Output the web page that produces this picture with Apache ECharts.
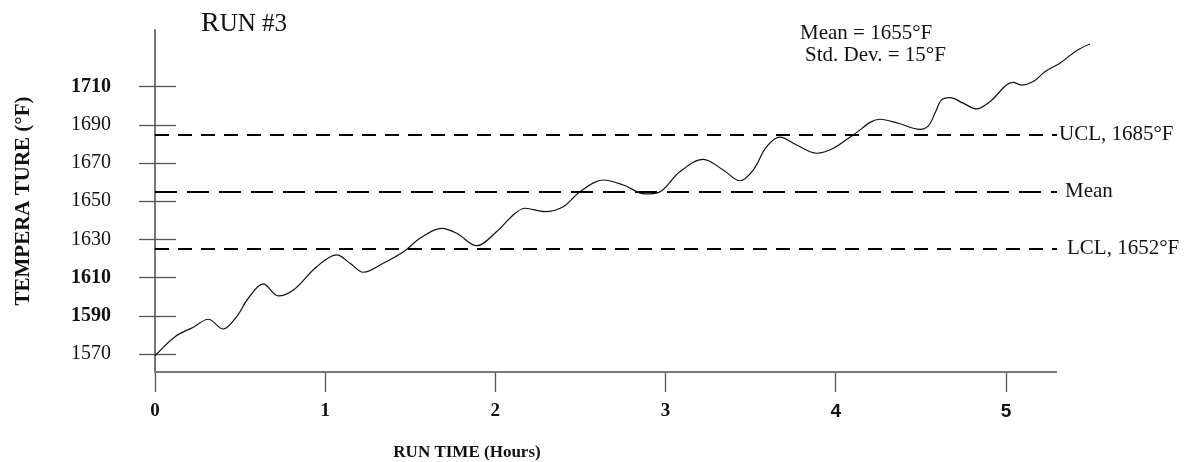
<!DOCTYPE html>
<html>
<head>
<meta charset="utf-8">
<script src="https://cdn.jsdelivr.net/npm/echarts@6/dist/echarts.min.js"></script>
<style>
html,body{margin:0;padding:0;background:#fff;}
#c{width:1191px;height:462px;}
</style>
</head>
<body>
<div id="c"></div>
<script>
// Run time (hours) and temperature (°F)
const hours = [0, 0.118, 0.225, 0.313, 0.401, 0.480, 0.548, 0.636, 0.724, 0.813,
  0.950, 1.068, 1.146, 1.224, 1.341, 1.469, 1.557, 1.684, 1.773, 1.890,
  2.008, 2.105, 2.174, 2.291, 2.399, 2.497, 2.634, 2.752, 2.879, 2.957,
  3.085, 3.222, 3.339, 3.437, 3.515, 3.594, 3.672, 3.770, 3.888, 3.986,
  4.103, 4.260, 4.368, 4.495, 4.544, 4.583, 4.622, 4.671, 4.749, 4.828,
  4.906, 5.043, 5.092, 5.161, 5.229, 5.317, 5.415, 5.494];
const temps = [1569, 1579.1, 1584.0, 1588.2, 1583.1, 1589.6, 1599.2, 1606.7, 1600.4, 1603.5,
  1615.7, 1621.9, 1617.5, 1612.8, 1617.5, 1624.1, 1630.6, 1635.8, 1633.2, 1626.7,
  1634.1, 1642.8, 1646.3, 1644.5, 1647.1, 1655.0, 1661.1, 1658.5, 1653.8, 1654.5,
  1665.5, 1671.9, 1666.3, 1660.7, 1666.3, 1678.5, 1683.5, 1679.4, 1675.1, 1677.7,
  1684.7, 1692.9, 1690.8, 1687.6, 1689.4, 1696.0, 1703.0, 1704.2, 1701.3, 1698.3,
  1702.1, 1712.2, 1710.8, 1712.6, 1717.8, 1722.2, 1728.8, 1732.3];

const xTicks = [0, 1, 2, 3, 4, 5];
const xSansTicks = [4, 5];
const yTicks = [1570, 1590, 1610, 1630, 1650, 1670, 1690, 1710];
const yBoldTicks = [1590, 1610, 1710];

const uclValue = 1685;
const meanValue = 1655;
const lclValue = 1625;
const uclLabel = 'UCL, 1685°F';
const meanLabel = 'Mean';
const lclLabel = 'LCL, 1652°F';

const titleText = 'RUN #3';
const statLine1 = 'Mean = 1655°F';
const statLine2 = 'Std. Dev. = 15°F';
const xName = 'RUN TIME (Hours)';
const yName = 'TEMPERA TURE (°F)';

const serif = '"Liberation Serif", "DejaVu Serif", serif';
const sans = '"Liberation Sans", "DejaVu Sans", sans-serif';

const chart = echarts.init(document.getElementById('c'), null, {renderer: 'canvas'});

const yMin = 1560.6, yMax = 1739.6;
const xMin = 0, xAxisEnd = 5.3, xMax = 5.5;

function hLine(value, dash, label, dist) {
  return [
    {coord: [xMin, value], lineStyle: {type: dash, color: '#000', width: 2},
      label: label ? {show: true, formatter: label, distance: dist} : {show: false}},
    {coord: [xAxisEnd, value]}
  ];
}

const option = {
  animation: false,
  backgroundColor: '#fff',
  title: [
    {
      text: '{r|' + titleText.charAt(0) + '}{u|' + titleText.slice(1) + '}',
      left: 196, top: 5,
      textStyle: {
        fontWeight: 'normal',
        rich: {
          r: {fontFamily: serif, fontSize: 28, fontWeight: 'normal', color: '#111'},
          u: {fontFamily: serif, fontSize: 25, fontWeight: 'normal', color: '#111'}
        }
      }
    },
    {
      text: statLine1,
      left: 795, top: 18,
      textStyle: {fontFamily: serif, fontSize: 21, fontWeight: 'normal', color: '#111'}
    },
    {
      text: statLine2,
      left: 800, top: 40,
      textStyle: {fontFamily: serif, fontSize: 21, fontWeight: 'normal', color: '#111'}
    }
  ],
  grid: {left: 155, right: 100, top: 30, bottom: 90, containLabel: false, outerBoundsMode: 'none'},
  xAxis: {
    type: 'value',
    min: xMin, max: xMax,
    name: xName,
    nameLocation: 'middle',
    nameGap: 72,
    nameTextStyle: {fontFamily: serif, fontSize: 17, fontWeight: 'bold', color: '#111', padding: [0, 312, 0, 0]},
    axisLine: {show: false},
    axisTick: {show: true, length: 20, inside: false, customValues: xTicks, lineStyle: {color: '#555', width: 1.3}},
    axisLabel: {
      customValues: xTicks,
      margin: 30,
      formatter: v => (xSansTicks.indexOf(v) >= 0 ? '{s|' + v + '}' : '{n|' + v + '}'),
      rich: {
        n: {fontFamily: serif, fontSize: 19, fontWeight: 'bold', color: '#111'},
        s: {fontFamily: sans, fontSize: 19, fontWeight: 'bold', color: '#111'}
      }
    },
    splitLine: {show: false}
  },
  yAxis: [
    {
      type: 'value',
      min: yMin, max: yMax,
      position: 'left',
      name: yName,
      nameLocation: 'middle',
      nameGap: 121,
      nameRotate: 90,
      nameTextStyle: {fontFamily: serif, fontSize: 21, fontWeight: 'bold', color: '#111'},
      axisLine: {show: true, lineStyle: {color: '#777', width: 2}},
      axisTick: {show: true, length: 16, inside: false, customValues: yTicks, lineStyle: {color: '#555', width: 1.3}},
      axisLabel: {
        customValues: yTicks,
        margin: 44,
        formatter: v => (yBoldTicks.indexOf(v) >= 0 ? '{b|' + v + '}' : '{n|' + v + '}'),
        rich: {
          b: {fontFamily: serif, fontSize: 20, fontWeight: 'bold', color: '#111'},
          n: {fontFamily: serif, fontSize: 20, fontWeight: 'normal', color: '#111'}
        }
      },
      splitLine: {show: false}
    },
    {
      type: 'value',
      min: yMin, max: yMax,
      position: 'left',
      axisLine: {show: false},
      axisTick: {show: true, length: 21, inside: true, customValues: yTicks, lineStyle: {color: '#555', width: 1.3}},
      axisLabel: {show: false},
      splitLine: {show: false}
    }
  ],
  series: [
    {
      type: 'line',
      data: hours.map((h, i) => [h, temps[i]]),
      smooth: 0.35,
      symbol: 'none',
      clip: false,
      lineStyle: {color: '#111', width: 1.2},
      markLine: {
        silent: true,
        symbol: ['none', 'none'],
        label: {position: 'end', fontFamily: serif, fontSize: 21, color: '#111'},
        data: [
          [
            {coord: [xMin, yMin], lineStyle: {type: 'solid', color: '#777', width: 2}, label: {show: false}},
            {coord: [xAxisEnd, yMin]}
          ],
          hLine(uclValue, [14, 9], uclLabel, 2),
          hLine(meanValue, [22, 10], meanLabel, 8),
          hLine(lclValue, [14, 9], lclLabel, 10)
        ]
      }
    }
  ]
};
chart.setOption(option);
</script>
</body>
</html>
